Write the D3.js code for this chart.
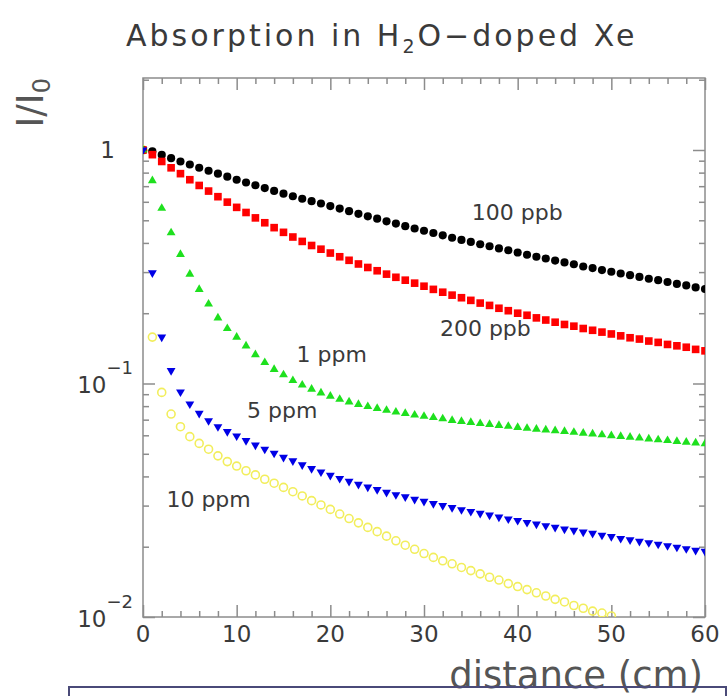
<!DOCTYPE html>
<html>
<head>
<meta charset="utf-8">
<script src="https://cdn.jsdelivr.net/npm/d3@7"></script>
<style>
  body { margin: 0; background: #fff; }
  text { font-family: "DejaVu Sans", sans-serif; fill: #3a3a3a; }
</style>
</head>
<body>
<div id="chart"></div>
<script>
// distance along the cell (cm), one point per cm
var distance = [0,1,2,3,4,5,6,7,8,9,10,11,12,13,14,15,16,17,18,19,20,
  21,22,23,24,25,26,27,28,29,30,31,32,33,34,35,36,37,38,39,40,
  41,42,43,44,45,46,47,48,49,50,51,52,53,54,55,56,57,58,59,60];

// I/I0 for each water concentration
var ppb100 = [1.000,0.986,0.953,0.923,0.893,0.867,0.839,0.815,0.792,0.769,0.746,
  0.726,0.706,0.687,0.668,0.650,0.634,0.618,0.604,0.590,0.575,
  0.561,0.547,0.533,0.520,0.508,0.495,0.484,0.472,0.461,0.451,
  0.441,0.431,0.421,0.412,0.404,0.395,0.387,0.379,0.372,0.364,
  0.356,0.349,0.343,0.336,0.330,0.324,0.317,0.312,0.306,0.301,
  0.296,0.291,0.286,0.281,0.277,0.272,0.267,0.263,0.258,0.254];
var ppb200 = [1.000,0.955,0.893,0.839,0.792,0.746,0.705,0.667,0.631,0.598,0.568,
  0.540,0.512,0.488,0.465,0.444,0.424,0.406,0.390,0.376,0.362,
  0.349,0.337,0.325,0.314,0.304,0.294,0.285,0.277,0.269,0.261,
  0.253,0.246,0.239,0.233,0.227,0.221,0.216,0.210,0.205,0.200,
  0.196,0.191,0.187,0.183,0.179,0.176,0.172,0.169,0.166,0.163,
  0.160,0.157,0.155,0.152,0.150,0.147,0.145,0.143,0.140,0.138];
var ppm1 = [1.000,0.739,0.563,0.442,0.357,0.294,0.253,0.219,0.191,0.172,0.158,
  0.145,0.133,0.123,0.115,0.109,0.103,0.0985,0.0945,0.0911,0.0882,
  0.0856,0.0834,0.0814,0.0797,0.0782,0.0768,0.0755,0.0744,0.0733,0.0724,
  0.0715,0.0706,0.0695,0.0688,0.0681,0.0674,0.0668,0.0661,0.0656,0.0649,
  0.0643,0.0638,0.0633,0.0628,0.0623,0.0618,0.0613,0.0608,0.0603,0.0598,
  0.0594,0.0589,0.0584,0.0579,0.0574,0.0570,0.0565,0.0561,0.0557,0.0552];
var ppm5 = [1.000,0.298,0.158,0.1135,0.092,0.0817,0.0745,0.0693,0.0653,0.0622,0.0596,
  0.0569,0.0545,0.0523,0.0503,0.0483,0.0466,0.0448,0.0432,0.0418,0.0404,
  0.0392,0.0381,0.0370,0.0360,0.0351,0.0342,0.0334,0.0327,0.0319,0.0313,
  0.0306,0.0300,0.0294,0.0288,0.0283,0.0278,0.0273,0.0268,0.0263,0.0259,
  0.0254,0.0250,0.0246,0.0242,0.0238,0.0235,0.0231,0.0228,0.0224,0.0221,
  0.0217,0.0214,0.0211,0.0208,0.0205,0.0202,0.0199,0.0196,0.0193,0.0191];
var ppm10 = [1.000,0.158,0.0916,0.074,0.0653,0.0592,0.0554,0.0523,0.049,0.0463,0.0443,
  0.0423,0.0406,0.0389,0.0374,0.0359,0.0344,0.033,0.0315,0.0302,0.0289,
  0.0276,0.0264,0.0253,0.0242,0.0232,0.0222,0.0212,0.0203,0.0195,0.0187,
  0.0180,0.0174,0.0169,0.0163,0.0158,0.0153,0.0148,0.0144,0.0139,0.0135,
  0.0131,0.0127,0.0123,0.0119,0.0116,0.0112,0.0109,0.0106,0.0104,0.0101];

var seriesNames = ["100 ppb", "200 ppb", "1 ppm", "5 ppm", "10 ppm"];
var xTicks = [0, 10, 20, 30, 40, 50, 60];
var xMinor = [2,4,6,8,12,14,16,18,22,24,26,28,32,34,36,38,42,44,46,48,52,54,56,58];
var yTicks = [0.01, 0.1, 1];
var yTickLabels = [["10", "\u22122"], ["10", "\u22121"], ["1", ""]];
var yMinor = [0.02,0.03,0.04,0.05,0.06,0.07,0.08,0.09,0.2,0.3,0.4,0.5,0.6,0.7,0.8,0.9,2];

var width = 728, height = 696;
var margin = {top: 78, right: 23, bottom: 79, left: 143};
var plotW = width - margin.left - margin.right,
    plotH = height - margin.top - margin.bottom;

var svg = d3.select("#chart")
            .append("svg")
            .attr("width", width)
            .attr("height", height);

// title
var title = svg.append("text")
               .attr("x", 126)
               .attr("y", 46)
               .style("font-size", "30px")
               .style("letter-spacing", "3px");
title.append("tspan").text("Absorption in H");
title.append("tspan").attr("dy", 7).style("font-size", "19px").text("2");
title.append("tspan").attr("dy", -7).text("O\u2212doped Xe");

var g = svg.append("g")
           .attr("transform", "translate(" + margin.left + "," + margin.top + ")");

var xScale = d3.scaleLinear()
               .domain([0, 60])
               .range([0, plotW]);

var yScale = d3.scaleLog()
               .domain([0.01, 2.034])
               .range([plotH, 0]);

// ticks on all four sides, pointing inward
function tickAxis(axis, vals, size, transform) {
  g.append("g")
   .attr("class", "ticks")
   .attr("transform", transform)
   .call(axis.tickValues(vals).tickSize(size).tickFormat(""));
}
tickAxis(d3.axisBottom(xScale), xTicks, -12, "translate(0," + plotH + ")");
tickAxis(d3.axisBottom(xScale), xMinor, -6, "translate(0," + plotH + ")");
tickAxis(d3.axisTop(xScale), xTicks, -12, "translate(0,0)");
tickAxis(d3.axisTop(xScale), xMinor, -6, "translate(0,0)");
tickAxis(d3.axisLeft(yScale), yTicks, -12, "translate(0,0)");
tickAxis(d3.axisLeft(yScale), yMinor, -6, "translate(0,0)");
tickAxis(d3.axisRight(yScale), yTicks, -12, "translate(" + plotW + ",0)");
tickAxis(d3.axisRight(yScale), yMinor, -6, "translate(" + plotW + ",0)");

g.selectAll(".ticks path.domain").remove();
g.selectAll(".ticks line")
 .style("stroke", "#8c8c8c")
 .style("stroke-width", 1.5);

// frame
g.append("rect")
 .attr("width", plotW)
 .attr("height", plotH)
 .style("fill", "none")
 .style("stroke", "#8c8c8c")
 .style("stroke-width", 1.5);

// x tick labels
g.selectAll(".xlab")
 .data(xTicks)
 .enter()
 .append("text")
 .attr("class", "xlab")
 .attr("x", function(d) { return xScale(d); })
 .attr("y", plotH + 25)
 .style("text-anchor", "middle")
 .style("font-size", "23px")
 .text(function(d) { return d; });

// y tick labels (powers of ten)
yTicks.forEach(function(v, i) {
  var lab = g.append("text")
             .attr("x", -10)
             .attr("y", yScale(v) + 10)
             .style("text-anchor", "end")
             .style("font-size", "23px");
  if (yTickLabels[i][1] === "") {
    lab.attr("x", -28).attr("y", yScale(v) + 8).text(yTickLabels[i][0]);
  } else {
    lab.append("tspan").text(yTickLabels[i][0]);
    lab.append("tspan").attr("dy", -19).style("font-size", "18px").text(yTickLabels[i][1]);
  }
});

// axis titles
svg.append("text")
   .attr("x", 703)
   .attr("y", 688)
   .style("text-anchor", "end")
   .style("font-size", "37px")
   .style("fill", "#555")
   .text("distance (cm)");

var yTitle = svg.append("text")
                .attr("transform", "translate(43,78) rotate(-90)")
                .style("text-anchor", "end")
                .style("font-size", "37px")
                .style("fill", "#555");
yTitle.append("tspan").text("I/I");
yTitle.append("tspan").attr("dy", 7).style("font-size", "24px").text("0");

// clip the markers to the frame
svg.append("clipPath")
   .attr("id", "plotClip")
   .append("rect")
   .attr("width", plotW)
   .attr("height", plotH);

var plot = g.append("g").attr("clip-path", "url(#plotClip)");

function drawSeries(values, shape, size, fill, stroke, rot) {
  plot.append("g")
      .selectAll("path")
      .data(values)
      .enter()
      .append("path")
      .attr("d", d3.symbol().type(shape).size(size))
      .attr("transform", function(d, i) {
        return "translate(" + xScale(distance[i]) + "," + yScale(d) + ") rotate(" + rot + ")";
      })
      .style("fill", fill)
      .style("stroke", stroke)
      .style("stroke-width", stroke === "none" ? 0 : 1.6);
}

drawSeries(ppm10, d3.symbolCircle, 50, "none", "#f2ee5c", 0);
drawSeries(ppb100, d3.symbolCircle, 52, "#000", "none", 0);
drawSeries(ppb200, d3.symbolSquare, 58, "#f00", "none", 0);
drawSeries(ppm1, d3.symbolTriangle, 34, "#1ee01e", "none", 0);
drawSeries(ppm5, d3.symbolTriangle, 34, "#0000e6", "none", 180);

// series labels
var labelPos = [[35.1, 0.501], [31.7, 0.160], [16.4, 0.124], [11.1, 0.0711], [2.5, 0.0296]];
g.selectAll(".slab")
 .data(seriesNames)
 .enter()
 .append("text")
 .attr("class", "slab")
 .attr("x", function(d, i) { return xScale(labelPos[i][0]); })
 .attr("y", function(d, i) { return yScale(labelPos[i][1]); })
 .style("font-size", "22px")
 .text(function(d) { return d; });

// outline box along the bottom
svg.append("rect")
   .attr("x", 69)
   .attr("y", 687)
   .attr("width", 657)
   .attr("height", 30)
   .style("fill", "none")
   .style("stroke", "#4a4a78")
   .style("stroke-width", 2);
</script>
</body>
</html>
